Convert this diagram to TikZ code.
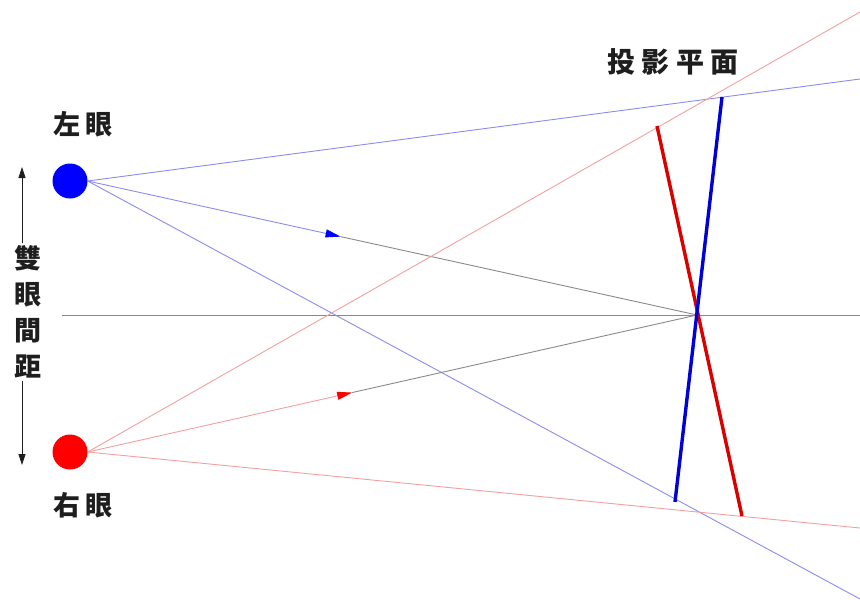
\documentclass[tikz,border=0pt]{standalone}
\usepackage{fontspec}
\newfontfamily\cjk[LetterSpace=22]{Noto Sans CJK TC}
\usetikzlibrary{arrows.meta,calc}
\definecolor{ink}{HTML}{1E1E1E}
\definecolor{lrayc}{HTML}{8C8CF0}
\definecolor{rrayc}{HTML}{F2A0A0}
\definecolor{axisc}{HTML}{8A8A8A}
\definecolor{leyec}{HTML}{0000FF}
\definecolor{reyec}{HTML}{FF0000}

\begin{document}
\begin{tikzpicture}[
  x=1pt, y=-1pt,
  eye/.style={circle, minimum size=35pt, inner sep=0pt},
  txt/.style={font=\cjk\bfseries\fontsize{27}{36}\selectfont, text=ink, inner sep=2pt, align=center},
  lray/.style={draw=lrayc, line width=0.9pt},
  rray/.style={draw=rrayc, line width=0.9pt},
  gaze/.style={draw=axisc, line width=0.9pt},
  plane/.style={line width=3.4pt},
  dist/.style={draw=ink, line width=0.8pt, -{Triangle[length=11pt, width=7pt]}},
]
\useasboundingbox (0,0) rectangle (860,600);

% eyes
\node[eye, fill=leyec] (leye) at (70,181) {};
\node[eye, fill=reyec] (reye) at (70,452) {};
\node[txt] (ltxt) at (83,124) {左眼};
\node[txt] (rtxt) at (83,505) {右眼};

% eye distance
\node[txt] (sep) at (28,312) {雙\\眼\\間\\距};
\coordinate (uptip) at (22,167);
\coordinate (downtip) at (22,465);
\draw[dist] (sep.north -| uptip) -- (uptip);
\draw[dist] (sep.south -| downtip) -- (downtip);

% points on the projection plane
\coordinate (focus) at (697,315);
\coordinate (btop) at (722,97);
\coordinate (bbot) at (675,502);
\coordinate (rtop) at (657,126);
\coordinate (rbot) at (742,516);
\node[txt, font=\cjk\bfseries\fontsize{28}{36}\selectfont] (plane) at (673,62) {投影平面};

% far ends of the rays
\coordinate (axstart) at (62,315);
\coordinate (axend) at (860,315);
\coordinate (lup) at (860,79);
\coordinate (ldown) at (860,599);
\coordinate (rup) at (860,12);
\coordinate (rdown) at (860,528);
\coordinate (lmid) at ($(leye.east)!0.415!(focus)$);
\coordinate (rmid) at ($(reye.east)!0.434!(focus)$);

% centre line
\draw[gaze] (axstart) -- (axend);

% rays of the left eye
\draw[lray] (leye.east) -- (lup);
\draw[lray] (leye.east) -- (ldown);
\draw[lray, -{Triangle[length=15pt, width=8pt, color=leyec]}] (leye.east) -- (lmid);
\draw[gaze] (lmid) -- (focus);

% rays of the right eye
\draw[rray] (reye.east) -- (rup);
\draw[rray] (reye.east) -- (rdown);
\draw[rray, -{Triangle[length=15pt, width=8pt, color=reyec]}] (reye.east) -- (rmid);
\draw[gaze] (rmid) -- (focus);

% projection plane
\draw[plane, draw=reyec!85!black] (rtop) -- (rbot);
\draw[plane, draw=leyec!85!black] (btop) -- (bbot);
\end{tikzpicture}
\end{document}
